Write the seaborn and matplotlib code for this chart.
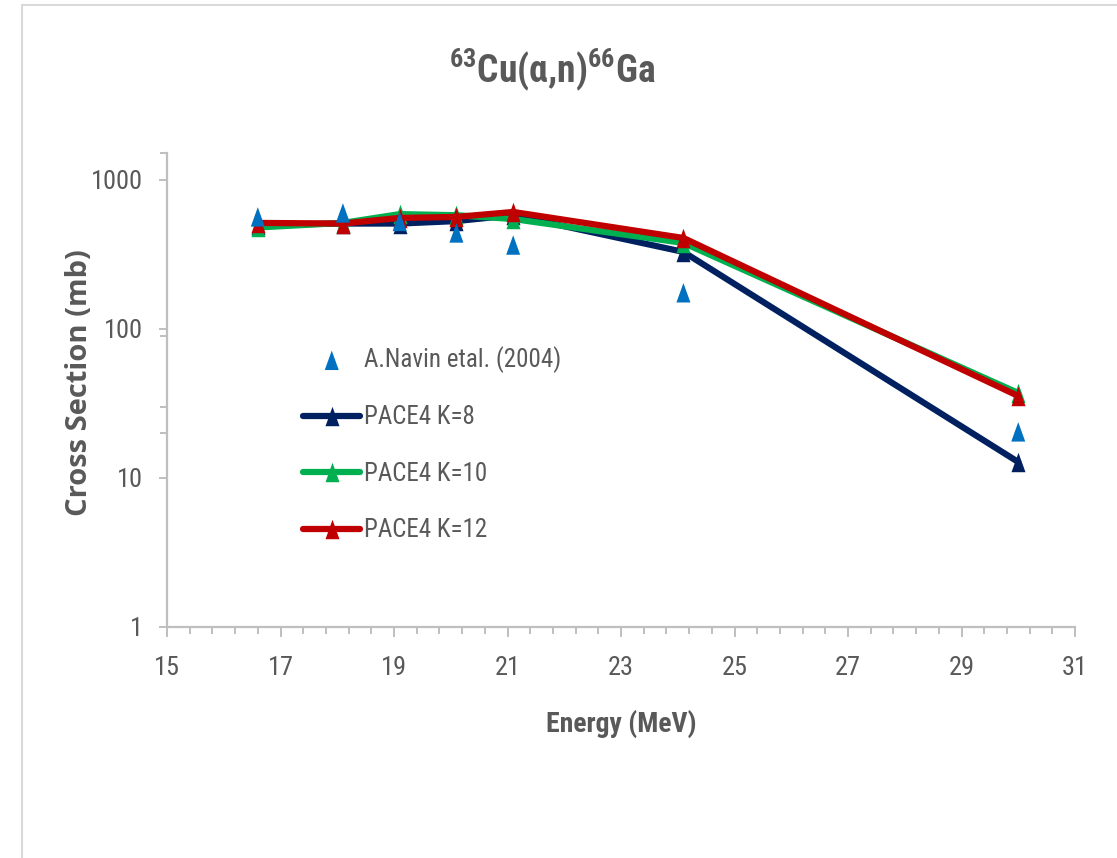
import matplotlib
matplotlib.use("Agg")
import matplotlib.pyplot as plt
from matplotlib import font_manager
from matplotlib.patches import Rectangle
from matplotlib.ticker import FixedLocator, NullFormatter
import seaborn as sns

# ---------------- data ----------------
energy = [16.6, 18.1, 19.1, 20.1, 21.1, 24.1, 30.0]
navin = [565, 601, 527, 441, 366, 175, 20.4]
k8 = [500, 510, 510, 530, 580, 329, 12.8]
k10 = [480, 515, 590, 580, 547, 378, 37.2]
k12 = [515, 510, 556, 565, 610, 408, 35.5]

x_ticks = [15, 17, 19, 21, 23, 25, 27, 29, 31]
y_ticks = [1, 10, 100, 1000]
y_tick_labels = ["1", "10", "100", "1000"]

title = r"$^{63}$Cu(α,n)$^{66}$Ga"
xlabel = "Energy (MeV)"
ylabel = "Cross Section (mb)"
labels = ["A.Navin etal. (2004)", "PACE4 K=8", "PACE4 K=10", "PACE4 K=12"]
colors = ["#0070C0", "#002060", "#00B050", "#C00000"]

# ---------------- style ----------------
sns.set_theme(style="white")
names = {f.name for f in font_manager.fontManager.ttflist}
def pick(cands):
    for c in cands:
        if c in names:
            return c
    return "DejaVu Sans"
narrow = pick(["Liberation Sans Narrow", "Roboto Condensed", "Open Sans Condensed", "Noto Sans", "Liberation Sans"])
wide = pick(["Open Sans", "DejaVu Sans"])
plt.rcParams["font.family"] = [narrow, "DejaVu Sans"]
plt.rcParams["mathtext.fontset"] = "custom"
plt.rcParams["mathtext.rm"] = narrow + ":bold"
plt.rcParams["mathtext.it"] = narrow + ":bold"
plt.rcParams["mathtext.bf"] = narrow + ":bold"

gray_txt = "#595959"
axis_gray = "#BFBFBF"

W, H = 1117, 858
fig = plt.figure(figsize=(W / 100, H / 100), dpi=100)
fig.patch.set_facecolor("white")

# chart border
fig.patches.append(Rectangle((22 / W, -0.1), 1.2, 1 - 5 / H + 0.1, transform=fig.transFigure,
                             fill=False, edgecolor="#D9D9D9", linewidth=1.5, zorder=0))

ax = fig.add_axes([167 / W, 1 - 627 / H, (1075 - 167) / W, (627 - 153) / H])
ax.set_facecolor("none")

tri = [(0, 1), (-0.72, -1), (0.72, -1)]
ms = 14

for yv, col, lab in zip([k8, k10, k12], colors[1:], labels[1:]):
    sns.lineplot(x=energy, y=yv, ax=ax, color=col, linewidth=4.5, marker=tri,
                 markersize=ms, markeredgewidth=0, label=lab, solid_capstyle="round",
                 solid_joinstyle="round", zorder=3)
sns.scatterplot(x=energy, y=navin, ax=ax, color=colors[0], marker=tri, s=ms ** 2,
                edgecolor="none", linewidth=0, label=labels[0], zorder=5)

ax.set_yscale("log")
ax.set_xlim(15, 31)
ax.set_ylim(1, 1517)
ax.set_xticks(x_ticks)
ax.set_xticklabels([str(t) for t in x_ticks])
ax.xaxis.set_minor_locator(FixedLocator([15 + 0.4 * i for i in range(41)]))
ax.set_yticks(y_ticks)
ax.set_yticklabels(y_tick_labels)
ax.yaxis.set_minor_locator(FixedLocator([20, 30, 90, 1517]))
ax.yaxis.set_minor_formatter(NullFormatter())

for s in ["top", "right"]:
    ax.spines[s].set_visible(False)
for s in ["left", "bottom"]:
    ax.spines[s].set_color(axis_gray)
    ax.spines[s].set_linewidth(1.6)

ax.tick_params(axis="x", which="major", direction="out", length=7, width=1.4, color=axis_gray,
               labelsize=19, labelcolor=gray_txt, pad=14, bottom=True)
ax.tick_params(axis="x", which="minor", direction="out", length=5, width=1.4, color=axis_gray, bottom=True)
ax.tick_params(axis="y", which="major", direction="out", length=6, width=1.4, color=axis_gray,
               labelsize=19, labelcolor=gray_txt, pad=11, left=True)
ax.tick_params(axis="y", which="minor", direction="out", length=5, width=1.4, color=axis_gray, left=True)

ax.set_xlabel(xlabel, fontsize=20, fontweight="bold", color=gray_txt, labelpad=21)
ax.set_ylabel("")
fig.text(80 / W, 1 - 383 / H, ylabel, rotation=90, ha="center", va="center",
         fontsize=21, fontweight="bold", color=gray_txt, family=[wide, "DejaVu Sans"])

fig.text(552 / W, 1 - 70 / H, title, ha="center", va="center", fontsize=27,
         fontweight="bold", color=gray_txt)

handles, labs = ax.get_legend_handles_labels()
order = [labs.index(l) for l in labels]
leg = ax.legend([handles[i] for i in order], [labs[i] for i in order],
                loc="upper left", bbox_to_anchor=(303 / W, 1 - 346 / H),
                bbox_transform=fig.transFigure, frameon=False, fontsize=18,
                labelspacing=1.3, handlelength=2.3, handletextpad=0.15,
                borderpad=0, borderaxespad=0, numpoints=1, scatterpoints=1)
for t in leg.get_texts():
    t.set_color(gray_txt)

fig.savefig("out.png", dpi=100)
